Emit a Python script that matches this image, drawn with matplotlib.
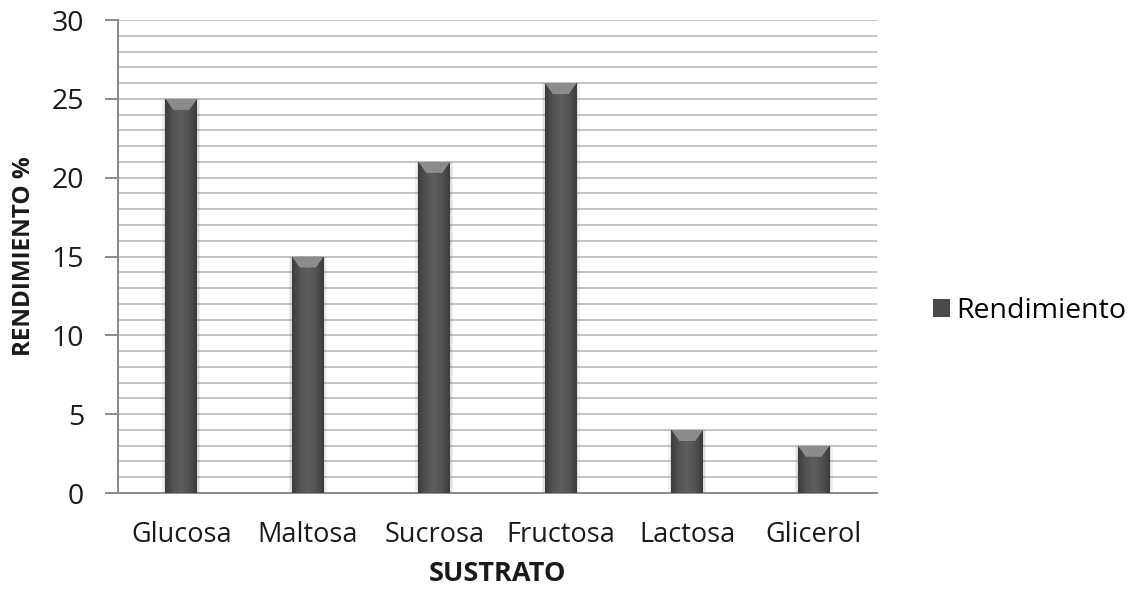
import numpy as np
import matplotlib
matplotlib.use("Agg")
import matplotlib.pyplot as plt
from matplotlib.patches import Polygon
from matplotlib.ticker import MultipleLocator

categories = ["Glucosa", "Maltosa", "Sucrosa", "Fructosa", "Lactosa", "Glicerol"]
rendimiento = [25, 15, 21, 26, 4, 3]
y_ticks = [0, 5, 10, 15, 20, 25, 30]

plt.rcParams['font.family'] = ['Open Sans', 'DejaVu Sans']

fig = plt.figure(figsize=(11.35, 5.9), dpi=100)
ax = fig.add_axes([0.104, 0.1644, 0.6687, 0.8017])

x = np.arange(len(categories))
bar_w = 0.25

# soft glow around the columns
for spread, alpha in [(0.05, 0.08), (0.03, 0.12)]:
    ax.bar(x, rendimiento, width=bar_w + spread, color='#555555', alpha=alpha,
           edgecolor='none', zorder=2)

bars = ax.bar(x, rendimiento, width=bar_w, color='#4a4a4a', edgecolor='none',
              zorder=3, label='Rendimiento')

# horizontal shading across each bar: darker edges, lighter middle
grad = np.abs(np.linspace(-1, 1, 64))
shade = np.vstack([grad, grad])
cmap = matplotlib.colors.LinearSegmentedColormap.from_list(
    'barshade', ['#5e5e5e', '#535353', '#3c3c3c'])
for rect, val in zip(bars, rendimiento):
    x0 = rect.get_x()
    w = rect.get_width()
    im = ax.imshow(shade, extent=[x0, x0 + w, 0, val], aspect='auto',
                   cmap=cmap, vmin=0, vmax=1, zorder=4, interpolation='bicubic')
    im.set_clip_path(rect)
    cap_depth = 0.7
    cap = Polygon([(x0, val), (x0 + w, val), (x0 + w * 0.75, val - cap_depth),
                   (x0 + w * 0.25, val - cap_depth)],
                  closed=True, facecolor='#8c8c8c', edgecolor='none', zorder=5)
    ax.add_patch(cap)

ax.set_xlim(-0.5, len(categories) - 0.5)
ax.set_ylim(0, 30)
ax.set_yticks(y_ticks)
ax.yaxis.set_minor_locator(MultipleLocator(1))
ax.set_xticks(x)
ax.set_xticklabels(categories)

ax.grid(axis='y', which='both', color='#c4c4c4', linewidth=1.4, zorder=0)
ax.set_axisbelow(True)

for side in ['top', 'right']:
    ax.spines[side].set_visible(False)
ax.spines['left'].set_color('#8a8a8a')
ax.spines['bottom'].set_color('#8a8a8a')
ax.spines['left'].set_linewidth(1.4)
ax.spines['bottom'].set_linewidth(1.4)

ax.tick_params(axis='y', which='major', length=9.5, width=1.4, color='#8a8a8a',
               labelsize=20.5, pad=15, labelcolor='#1a1a1a')
ax.tick_params(axis='y', which='minor', length=0)
ax.tick_params(axis='x', length=0, labelsize=19.5, pad=20, labelcolor='#1a1a1a')

ax.set_xlabel('SUSTRATO', fontsize=19.5, fontweight='bold', labelpad=9, color='#1a1a1a')
ax.set_ylabel('RENDIMIENTO %', fontsize=17.5, fontweight='bold', labelpad=11, color='#1a1a1a')

leg = ax.legend(loc='center left', bbox_to_anchor=(1.04, 0.385), frameon=False,
                fontsize=20.5, handlelength=0.6, handleheight=0.6, handletextpad=0.2)

fig.savefig('out.png', dpi=100, facecolor='white')
